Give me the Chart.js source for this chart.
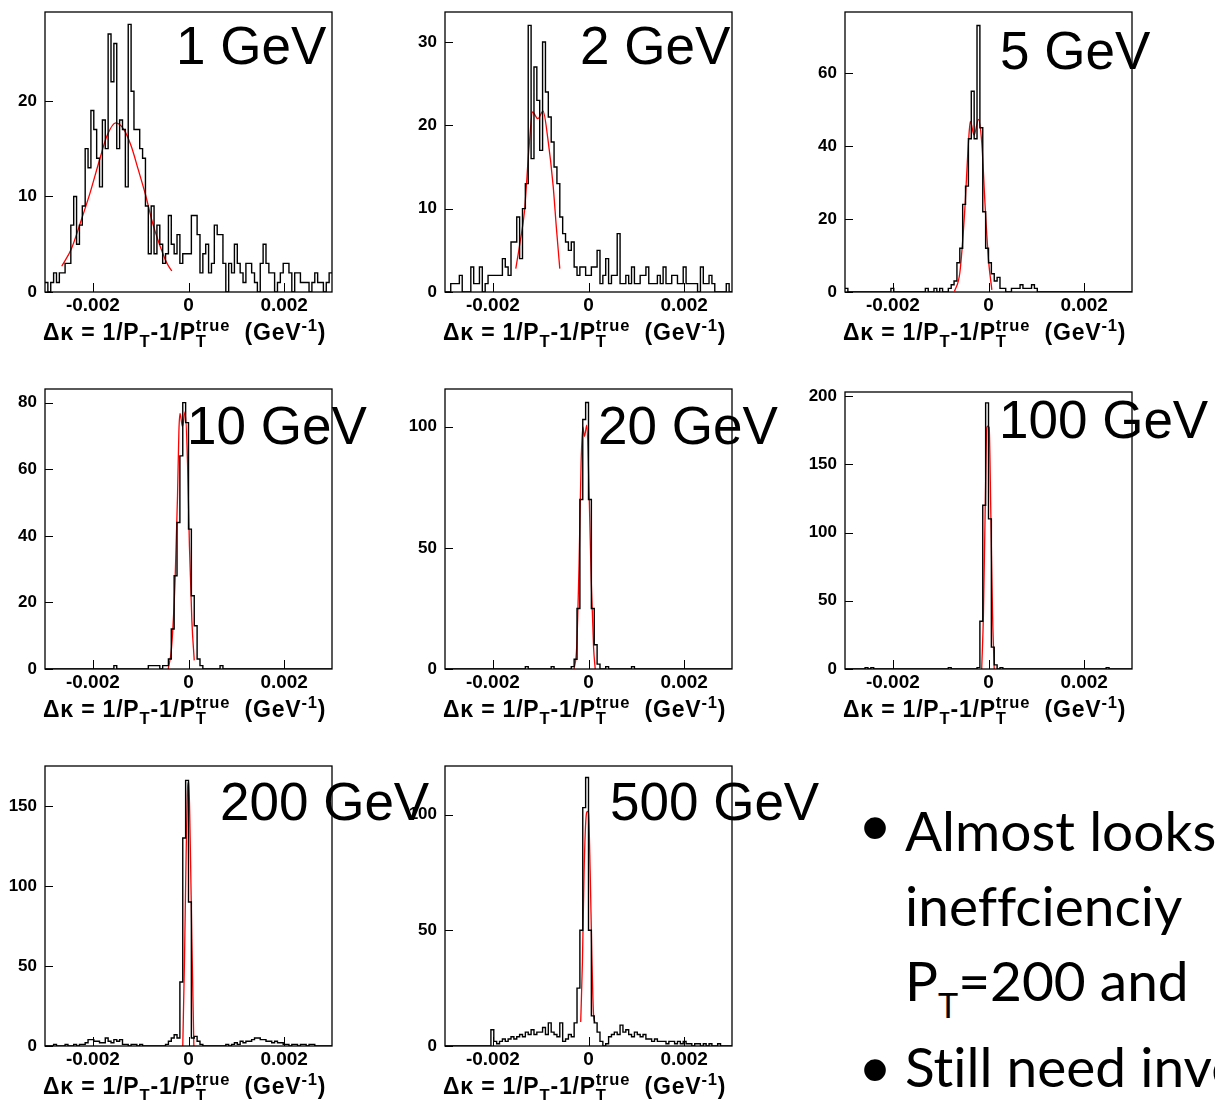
<!DOCTYPE html>
<html>
<head>
<meta charset="utf-8">
<script src="https://cdn.jsdelivr.net/npm/chart.js@4.4.1/dist/chart.umd.min.js"></script>
<style>
html,body{margin:0;padding:0;background:#fff;}
body{width:1215px;height:1100px;position:relative;overflow:hidden;}
canvas{position:absolute;z-index:1;}
.ttl{position:absolute;font-family:"Liberation Sans",Arial,sans-serif;font-size:53px;line-height:53px;white-space:nowrap;color:#000;z-index:2;}
.xt{position:absolute;font-family:"Liberation Sans",Arial,sans-serif;font-weight:bold;font-size:23px;line-height:23px;letter-spacing:0.8px;white-space:nowrap;color:#000;z-index:2;}
.xt span{line-height:0;}
.xt .sb{position:relative;top:0.4em;font-size:0.72em;}
.xt .sp{position:relative;top:-0.55em;font-size:0.72em;}
.tx{position:absolute;font-family:Lato,"Open Sans",sans-serif;font-size:55px;line-height:55px;white-space:nowrap;color:#000;z-index:2;font-variant-ligatures:none;font-feature-settings:"liga" 0,"clig" 0;}
.tx .sb{position:relative;top:0.5em;font-size:0.62em;line-height:0;}
.bl{position:absolute;font-family:"Liberation Sans",Arial,sans-serif;font-size:80px;line-height:80px;color:#000;z-index:2;}
</style>
</head>
<body>
<script>
// ---------------- data ----------------
const xMin = -0.003, xMax = 0.003, nBins = 100;
const xTicks = [-0.002, 0, 0.002];

const counts1GeV = [
 1,0,1,2,1,2,2,3,3,7,
 10,5,7,9,15,13,19,17,14,11,
 18,15,27,22,26,15,18,17,11,28,
 21,17,17,15,14,9,4,9,4,7,
 5,3,4,8,5,4,6,3,4,4,
 4,8,8,6,2,4,5,2,3,7,
 6,6,3,0,3,2,5,3,2,1,
 3,3,2,1,0,3,5,3,2,2,
 0,1,2,3,3,2,0,2,2,1,
 1,1,0,1,2,1,1,0,1,2];
const counts2GeV = [
 0,0,1,1,1,2,0,0,0,3,
 1,1,3,0,1,2,2,2,2,2,
 4,3,2,6,6,9,4,10,13,32,
 16,27,23,17,30,24,21,18,15,13,
 9,7,6,5,6,3,2,3,3,2,
 2,3,3,5,1,2,4,1,2,2,
 7,1,1,2,1,3,1,1,2,2,
 3,1,1,1,2,1,3,1,1,2,
 2,1,1,3,1,1,1,1,0,3,
 1,1,2,1,0,0,0,0,1,0];
const counts5GeV = [
 1,0,0,0,0,0,0,0,0,0,
 0,0,0,0,0,0,1,0,0,0,
 0,0,0,0,0,0,0,0,1,0,
 0,1,0,1,0,0,1,2,3,8,
 12,24,29,42,55,42,73,45,22,12,
 8,5,3,4,1,1,0,0,1,1,
 1,2,1,1,1,2,1,0,0,0,
 0,0,0,0,0,0,0,0,0,0,
 0,0,0,0,0,0,0,0,0,0,
 0,0,0,0,0,0,0,0,0,0];
const counts10GeV = [
 0,0,0,0,0,0,0,0,0,0,
 0,0,0,0,0,0,0,0,0,0,
 0,0,0,0,1,0,0,0,0,0,
 0,0,0,0,0,0,1,1,1,1,
 0,1,1,3,12,28,44,64,80,74,
 42,22,13,3,1,0,0,0,0,0,
 0,1,0,0,0,0,0,0,0,0,
 0,0,0,0,0,0,0,0,0,0,
 0,0,0,0,0,0,0,0,0,0,
 0,0,0,0,0,0,0,0,0,0];
const counts20GeV = [
 0,0,0,0,0,0,0,0,0,0,
 0,0,0,0,0,0,0,0,0,0,
 0,0,0,0,0,0,0,0,1,0,
 0,0,0,0,0,0,0,1,0,0,
 0,0,0,0,1,4,25,70,103,110,
 70,25,10,2,0,0,1,0,0,0,
 0,0,0,0,0,1,0,0,0,0,
 0,0,0,0,0,0,0,0,0,0,
 0,0,0,0,0,0,0,0,0,0,
 0,0,0,0,0,0,0,0,0,0];
const counts100GeV = [
 0,0,0,0,0,0,0,1,0,1,
 0,0,0,0,0,0,0,0,0,0,
 0,0,0,0,0,0,0,0,0,0,
 0,0,0,0,0,0,1,0,0,0,
 0,0,0,0,0,0,1,35,120,195,
 110,16,3,0,1,0,0,0,0,0,
 0,0,0,0,0,0,0,0,0,0,
 0,0,0,0,0,0,0,0,0,0,
 0,0,0,0,0,0,0,0,0,0,
 0,1,0,0,0,0,0,0,0,0];
const counts200GeV = [
 0,0,0,1,0,0,0,1,0,0,
 1,0,1,1,2,4,4,3,3,2,
 2,5,3,2,4,3,4,1,1,0,
 1,1,0,1,0,0,0,0,0,0,
 0,0,1,3,5,7,5,40,130,166,
 90,5,6,3,1,0,0,0,0,0,
 0,0,0,1,0,1,2,1,3,2,
 3,3,4,5,5,4,4,3,3,2,
 3,2,2,1,1,0,1,1,0,1,
 1,0,1,1,0,0,0,0,0,0];
const counts500GeV = [
 0,0,0,0,0,0,0,0,0,0,
 0,0,0,0,0,0,7,2,1,2,
 3,2,3,4,3,4,5,4,6,5,
 7,5,6,6,8,5,10,6,5,4,
 10,2,3,5,4,10,25,50,103,116,
 50,13,10,6,2,0,1,4,5,6,
 5,9,6,7,5,4,6,5,4,5,
 3,3,2,3,2,2,2,1,2,2,
 1,2,1,2,1,1,0,1,1,0,
 1,0,1,0,0,1,0,0,0,0];

// red fit curves
const fit1GeVX = [-0.00265,-0.00245,-0.00225,-0.00205,-0.00185,-0.00170,-0.00152,-0.00135,-0.00120,-0.00105,-0.00090,-0.00075,-0.00060,-0.00045,-0.00035];
const fit1GeVY = [2.7,4.5,7.4,10.5,14.0,16.4,17.7,17.0,15.3,12.8,10.2,7.2,4.9,3.0,2.2];
const fit2GeVX = [-0.00152,-0.00143,-0.00134,-0.00124,-0.00117,-0.00106,-0.00095,-0.00085,-0.00074,-0.00067,-0.00060];
const fit2GeVY = [2.8,6.0,9.6,17.6,21.6,20.8,21.7,18.4,12.8,7.6,2.8];
const fit5GeVX = [-0.00071,-0.00060,-0.00050,-0.00042,-0.00038,-0.00030,-0.00021,-0.00014,-0.00007,0,0.00007];
const fit5GeVY = [0.2,5.2,21.6,40.7,46.7,43,47.3,40.7,23.4,8.8,0.6];
const fit10GeVX = [-0.000424,-0.000353,-0.00028,-0.00023,-0.0002,-0.000177,-0.000127,-0.00007,-0.00002,0.00002,0.00007,0.00012];
const fit10GeVY = [0,6.6,26.7,51.7,71.8,76.8,72.8,77.3,61.8,36.7,14.6,2.6];
const fit20GeVX = [-0.0003,-0.000247,-0.000197,-0.000155,-0.000119,-0.000085,-0.000035,0.000015,0.000057,0.000106,0.00014];
const fit20GeVY = [0,9,43.5,84.8,100,96,100.7,71,36.6,9,0];
const fit100GeVX = [-0.000142,-0.000106,-0.000071,-0.000035,-0.000014,0.000014,0.000049,0.000085,0.00012];
const fit100GeVY = [0,40,113,177,178,177,113,40,0];
const fit200GeVX = [-0.00012,-0.000085,-0.00005,-0.000015,0.000007,0.000035,0.00007,0.000112];
const fit200GeVY = [0,52,119,163,165,130,67,0];
const fit500GeVX = [-0.000163,-0.000127,-0.000092,-0.000057,-0.000021,0,0.000035,0.00007,0.000106,0.000134];
const fit500GeVY = [10.4,36.4,75.4,97,101.4,100.7,75.4,39.3,13.3,10.4];

// y-axis tick labels and ranges
const yTicks1GeV = [0,10,20], yTicks2GeV = [0,10,20,30], yTicks5GeV = [0,20,40,60];
const yTicks10GeV = [0,20,40,60,80], yTicks20GeV = [0,50,100], yTicks100GeV = [0,50,100,150,200];
const yTicks200GeV = [0,50,100,150], yTicks500GeV = [0,50,100];
const yMaxes = [29.3, 33.6, 76.7, 84.1, 115.6, 203, 175, 121];
const titles = ['1 GeV','2 GeV','5 GeV','10 GeV','20 GeV','100 GeV','200 GeV','500 GeV'];

// ---------------- layout ----------------
const FW = 287;
const PADT = 22;
const panels = [
 {counts:counts1GeV,  fx:fit1GeVX,  fy:fit1GeVY,  yt:yTicks1GeV,  l:45,  t:12,  h:280, tx:176,  tb:63,  ab:340},
 {counts:counts2GeV,  fx:fit2GeVX,  fy:fit2GeVY,  yt:yTicks2GeV,  l:445, t:12,  h:280, tx:580,  tb:63,  ab:340},
 {counts:counts5GeV,  fx:fit5GeVX,  fy:fit5GeVY,  yt:yTicks5GeV,  l:845, t:12,  h:280, tx:1000, tb:68,  ab:340},
 {counts:counts10GeV, fx:fit10GeVX, fy:fit10GeVY, yt:yTicks10GeV, l:45,  t:389, h:280, tx:187,  tb:443, ab:717},
 {counts:counts20GeV, fx:fit20GeVX, fy:fit20GeVY, yt:yTicks20GeV, l:445, t:389, h:280, tx:598,  tb:443, ab:717},
 {counts:counts100GeV,fx:fit100GeVX,fy:fit100GeVY,yt:yTicks100GeV,l:845, t:392, h:277, tx:999,  tb:437, ab:717},
 {counts:counts200GeV,fx:fit200GeVX,fy:fit200GeVY,yt:yTicks200GeV,l:45,  t:766, h:280, tx:220,  tb:819, ab:1094},
 {counts:counts500GeV,fx:fit500GeVX,fy:fit500GeVY,yt:yTicks500GeV,l:445, t:766, h:280, tx:610,  tb:819, ab:1094}
];

const FONT = '"Liberation Sans", Arial, sans-serif';
const framePlugin = {
  id: 'rootFrame',
  afterDatasetsDraw(chart) {
    const ctx = chart.ctx, a = chart.chartArea, xs = chart.scales.x, ys = chart.scales.y;
    ctx.save();
    ctx.strokeStyle = '#000';
    ctx.lineWidth = 1;
    ctx.beginPath();
    xTicks.forEach(v => {
      const px = Math.round(xs.getPixelForValue(v)) + 0.5;
      ctx.moveTo(px, a.bottom); ctx.lineTo(px, a.bottom - 9);
    });
    ys.ticks.forEach(t => {
      const py = Math.round(ys.getPixelForValue(t.value)) + 0.5;
      ctx.moveTo(a.left, py); ctx.lineTo(a.left + 8, py);
    });
    ctx.stroke();
    ctx.lineWidth = 1.3;
    ctx.strokeRect(a.left, a.top, a.right - a.left, a.bottom - a.top);
    ctx.restore();
  }
};

const binW = (xMax - xMin) / nBins;
panels.forEach((p, idx) => {
  const W = 45 + FW + 6, H = PADT + p.h + 30;
  const cv = document.createElement('canvas');
  cv.width = W; cv.height = H;
  cv.style.left = (p.l - 45) + 'px'; cv.style.top = (p.t - PADT) + 'px';
  cv.style.width = W + 'px'; cv.style.height = H + 'px';
  document.body.appendChild(cv);

  const hist = p.counts.map((c, i) => ({x: xMin + i * binW, y: c}));
  hist.push({x: xMax, y: p.counts[p.counts.length - 1]});
  const fit = p.fx.map((x, i) => ({x: x, y: p.fy[i]}));

  new Chart(cv, {
    type: 'line',
    data: {datasets: [
      {data: hist, stepped: true, borderColor: '#000', borderWidth: 1.4, pointRadius: 0, fill: false},
      {data: fit, borderColor: '#ff0000', borderWidth: 1.3, pointRadius: 0, fill: false, cubicInterpolationMode: 'monotone'}
    ]},
    options: {
      responsive: false, animation: false, events: [],
      layout: {padding: {top: PADT, right: 6, left: 0, bottom: 0}},
      plugins: {legend: {display: false}, tooltip: {enabled: false}, title: {display: false}},
      scales: {
        x: {
          type: 'linear', min: xMin, max: xMax,
          afterBuildTicks: s => { s.ticks = xTicks.map(v => ({value: v})); },
          afterFit: s => { s.height = 30; },
          grid: {display: false, drawTicks: false}, border: {display: false},
          ticks: {font: {family: FONT, size: 19, weight: 'bold'}, color: '#000', padding: 2,
                  maxRotation: 0, autoSkip: false,
                  callback: v => (Math.abs(v) < 1e-12 ? '0' : v.toFixed(3))}
        },
        y: {
          type: 'linear', min: 0, max: yMaxes[idx],
          afterBuildTicks: s => { s.ticks = p.yt.map(v => ({value: v})); },
          afterFit: s => { s.width = 45; },
          grid: {display: false, drawTicks: false}, border: {display: false},
          ticks: {font: {family: FONT, size: 17, weight: 'bold'}, color: '#000', padding: 8,
                  autoSkip: false, callback: v => String(v)}
        }
      }
    },
    plugins: [framePlugin]
  });

  // panel title
  const tt = document.createElement('div');
  tt.className = 'ttl';
  tt.textContent = titles[idx];
  tt.style.left = p.tx + 'px';
  tt.style.top = (p.tb - 44) + 'px';
  document.body.appendChild(tt);

  // x-axis title
  const xt = document.createElement('div');
  xt.className = 'xt';
  xt.innerHTML = '&Delta;&kappa; = 1/P<span class="sb">T</span>-1/P<span class="sb">T</span><span class="sp" style="margin-left:-11px">true</span>&nbsp; (GeV<span class="sp">-1</span>)';
  xt.style.left = (p.l - 2) + 'px';
  xt.style.top = (p.ab - 19) + 'px';
  document.body.appendChild(xt);
});

// ---------------- bullet text ----------------
function addLine(html, baseline) {
  const d = document.createElement('div');
  d.className = 'tx';
  d.innerHTML = html;
  d.style.left = '905px';
  d.style.top = (baseline - 48.8) + 'px';
  document.body.appendChild(d);
}
function addBullet(baseline) {
  const d = document.createElement('div');
  d.className = 'bl';
  d.textContent = '\u2022';
  d.style.left = '861px';
  d.style.top = (baseline - 66.5) + 'px';
  document.body.appendChild(d);
}
addBullet(854);
addLine('Almost looks like', 852);
addLine('ineffcienciy', 927);
addLine('P<span class="sb">T</span>=200 and', 1002);
addBullet(1096);
addLine('Still need investigating', 1088);
</script>
</body>
</html>
